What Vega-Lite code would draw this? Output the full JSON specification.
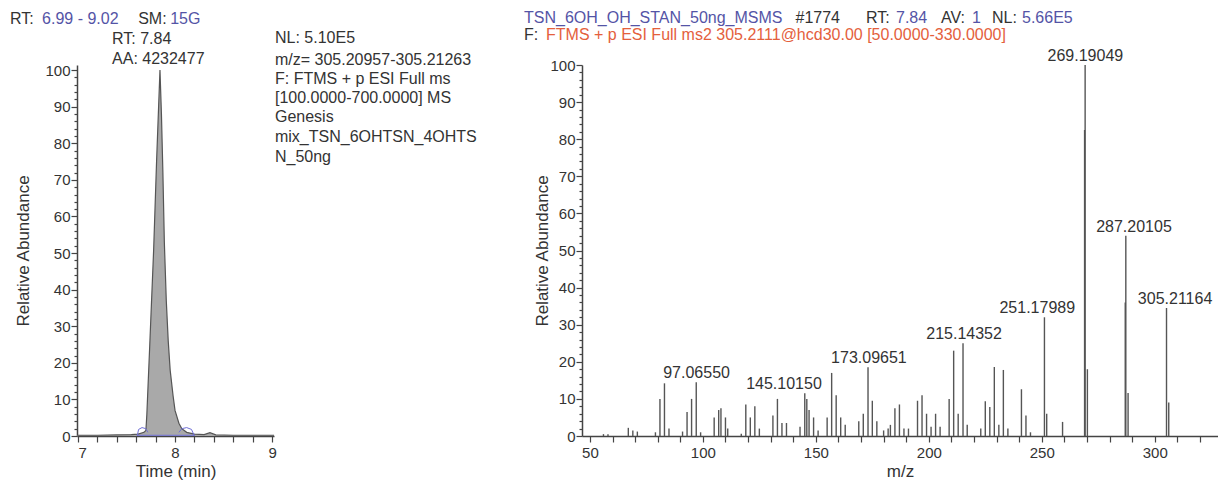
{
  "$schema": "https://vega.github.io/schema/vega-lite/v6.json",
  "background": "white",
  "autosize": {"type": "pad"},
  "padding": {"left": 10, "top": 9, "right": 0, "bottom": 5},
  "config": {
    "font": "Liberation Sans",
    "view": {"stroke": null},
    "axis": {
      "grid": false,
      "domainColor": "#444",
      "domainWidth": 1.5,
      "tickColor": "#444",
      "tickWidth": 1.2,
      "labelColor": "#333",
      "labelFont": "Liberation Sans",
      "labelFontSize": 15,
      "labelPadding": 2,
      "labelOverlap": false,
      "titleFont": "Liberation Sans",
      "titleFontSize": 17,
      "titleFontWeight": "normal",
      "titleColor": "#333"
    },
    "text": {"font": "Liberation Sans"}
  },
  "spacing": 308,
  "bounds": "flush",
  "datasets": {
    "chrom": [
      {"t": 6.99, "v": 0.2}, {"t": 7.2, "v": 0.2}, {"t": 7.4, "v": 0.3}, {"t": 7.55, "v": 0.4},
      {"t": 7.62, "v": 0.5}, {"t": 7.68, "v": 1.0}, {"t": 7.70, "v": 1.5}, {"t": 7.71, "v": 6},
      {"t": 7.74, "v": 25}, {"t": 7.78, "v": 51}, {"t": 7.81, "v": 75}, {"t": 7.845, "v": 100},
      {"t": 7.86, "v": 88}, {"t": 7.875, "v": 72}, {"t": 7.89, "v": 53}, {"t": 7.91, "v": 37},
      {"t": 7.93, "v": 26}, {"t": 7.95, "v": 18}, {"t": 7.98, "v": 11}, {"t": 8.0, "v": 7},
      {"t": 8.04, "v": 3.5}, {"t": 8.07, "v": 2}, {"t": 8.12, "v": 1}, {"t": 8.2, "v": 0.5},
      {"t": 8.3, "v": 0.4}, {"t": 8.36, "v": 0.9}, {"t": 8.42, "v": 0.3}, {"t": 8.6, "v": 0.2},
      {"t": 9.02, "v": 0.2}
    ],
    "marks": [
      {"t": 7.61, "v": 0, "seg": "a"}, {"t": 7.625, "v": 1.8, "seg": "a"}, {"t": 7.66, "v": 2.3, "seg": "a"}, {"t": 7.70, "v": 2.0, "seg": "a"}, {"t": 7.72, "v": 1.0, "seg": "a"},
      {"t": 8.04, "v": 1.0, "seg": "b"}, {"t": 8.07, "v": 2.0, "seg": "b"}, {"t": 8.12, "v": 2.3, "seg": "b"}, {"t": 8.17, "v": 1.8, "seg": "b"}, {"t": 8.2, "v": 0, "seg": "b"},
      {"t": 7.61, "v": 0.2, "seg": "c"}, {"t": 8.2, "v": 0.2, "seg": "c"}
    ],
    "leftText": [
      {"x": 6.30, "y": 114, "text": "RT:", "role": "label"},
      {"x": 6.63, "y": 114, "text": "6.99 - 9.02", "role": "value"},
      {"x": 7.62, "y": 114, "text": "SM:", "role": "label"},
      {"x": 7.95, "y": 114, "text": "15G", "role": "value"},
      {"x": 7.351, "y": 108.5, "text": "RT: 7.84", "role": "label"},
      {"x": 7.351, "y": 103.0, "text": "AA: 4232477", "role": "label"},
      {"x": 9.03, "y": 108.8, "text": "NL: 5.10E5", "role": "label"},
      {"x": 9.03, "y": 102.8, "text": "m/z= 305.20957-305.21263", "role": "label"},
      {"x": 9.03, "y": 97.6, "text": "F: FTMS + p ESI Full ms", "role": "label"},
      {"x": 9.03, "y": 92.4, "text": "[100.0000-700.0000]  MS", "role": "label"},
      {"x": 9.03, "y": 87.2, "text": "Genesis", "role": "label"},
      {"x": 9.03, "y": 81.7, "text": "mix_TSN_6OHTSN_4OHTS", "role": "label"},
      {"x": 9.03, "y": 76.3, "text": "N_50ng", "role": "label"}
    ],
    "spec": [
      {"mz": 56, "i": 0.5}, {"mz": 58, "i": 0.5}, {"mz": 67, "i": 2.2}, {"mz": 69, "i": 1.5}, {"mz": 71, "i": 1.2},
      {"mz": 79, "i": 1.0}, {"mz": 81, "i": 10}, {"mz": 83, "i": 14.2}, {"mz": 85, "i": 2},
      {"mz": 91, "i": 1.2}, {"mz": 93, "i": 6.5}, {"mz": 95, "i": 10}, {"mz": 97.0655, "i": 14.5}, {"mz": 99, "i": 1},
      {"mz": 105, "i": 5}, {"mz": 107, "i": 7}, {"mz": 108, "i": 7.5}, {"mz": 110, "i": 5}, {"mz": 111, "i": 2},
      {"mz": 117, "i": 0.6}, {"mz": 119, "i": 8.5}, {"mz": 121, "i": 5}, {"mz": 123, "i": 8}, {"mz": 125, "i": 2},
      {"mz": 131, "i": 5.5}, {"mz": 133, "i": 10}, {"mz": 135, "i": 3.5}, {"mz": 137, "i": 3.5},
      {"mz": 143, "i": 2.5}, {"mz": 145.1015, "i": 11.5}, {"mz": 146, "i": 10}, {"mz": 147, "i": 7}, {"mz": 149, "i": 5}, {"mz": 151, "i": 1.5},
      {"mz": 155, "i": 5}, {"mz": 157, "i": 17}, {"mz": 159, "i": 11}, {"mz": 161, "i": 5}, {"mz": 163, "i": 3},
      {"mz": 169, "i": 4}, {"mz": 171, "i": 6}, {"mz": 173.0965, "i": 18.5}, {"mz": 175, "i": 9.5}, {"mz": 177, "i": 4}, {"mz": 180, "i": 1.5},
      {"mz": 182, "i": 2}, {"mz": 183, "i": 3}, {"mz": 185, "i": 7.5}, {"mz": 187, "i": 8.5}, {"mz": 189, "i": 2}, {"mz": 191, "i": 2},
      {"mz": 195, "i": 9.5}, {"mz": 197, "i": 11}, {"mz": 199, "i": 6}, {"mz": 201, "i": 2.5}, {"mz": 203, "i": 6}, {"mz": 205, "i": 2.5},
      {"mz": 209, "i": 10}, {"mz": 211, "i": 23}, {"mz": 213, "i": 6}, {"mz": 215.1435, "i": 25}, {"mz": 217, "i": 3},
      {"mz": 223, "i": 2}, {"mz": 225, "i": 9.4}, {"mz": 227, "i": 7.8}, {"mz": 229, "i": 18.6}, {"mz": 231, "i": 3}, {"mz": 233, "i": 17.8}, {"mz": 235, "i": 2},
      {"mz": 241, "i": 12.6}, {"mz": 243, "i": 5.5}, {"mz": 245, "i": 1},
      {"mz": 251.1799, "i": 32}, {"mz": 252.18, "i": 6}, {"mz": 259.2, "i": 3.8},
      {"mz": 268.95, "i": 82.5}, {"mz": 269.1905, "i": 100}, {"mz": 270.19, "i": 18},
      {"mz": 286.95, "i": 36}, {"mz": 287.2011, "i": 54}, {"mz": 288.2, "i": 11.6},
      {"mz": 305.2116, "i": 34.5}, {"mz": 306.2, "i": 9}
    ],
    "peaks": [
      {"mz": 97.0655, "i": 14.5, "label": "97.06550", "at": 97.2},
      {"mz": 145.1015, "i": 11.5, "label": "145.10150", "at": 135.9},
      {"mz": 173.0965, "i": 18.5, "label": "173.09651", "at": 173.5},
      {"mz": 215.1435, "i": 25, "label": "215.14352", "at": 215.6},
      {"mz": 251.1799, "i": 32, "label": "251.17989", "at": 248.0},
      {"mz": 269.1905, "i": 100, "label": "269.19049", "at": 269.3},
      {"mz": 287.2011, "i": 54, "label": "287.20105", "at": 290.8},
      {"mz": 305.2116, "i": 34.5, "label": "305.21164", "at": 309.0}
    ],
    "rightText": [
      {"x": 20.83, "y": 112.7, "text": "TSN_6OH_OH_STAN_50ng_MSMS", "role": "value"},
      {"x": 141.0, "y": 112.7, "text": "#1774", "role": "label"},
      {"x": 172.2, "y": 112.7, "text": "RT:", "role": "label"},
      {"x": 185.48, "y": 112.7, "text": "7.84", "role": "value"},
      {"x": 205.4, "y": 112.7, "text": "AV:", "role": "label"},
      {"x": 219.1, "y": 112.7, "text": "1", "role": "value"},
      {"x": 228.0, "y": 112.7, "text": "NL:", "role": "label"},
      {"x": 241.25, "y": 112.7, "text": "5.66E5", "role": "value"},
      {"x": 20.83, "y": 108.1, "text": "F:", "role": "label"},
      {"x": 30.57, "y": 108.1, "text": "FTMS + p ESI Full ms2 305.2111@hcd30.00 [50.0000-330.0000]", "role": "filter"}
    ]
  },
  "hconcat": [
    {
      "width": 197,
      "height": 371,
      "layer": [
        {
          "data": {"name": "chrom"},
          "mark": {"type": "area", "color": "#a9a9a9", "opacity": 1, "line": {"color": "#555", "strokeWidth": 1.2}},
          "encoding": {
            "x": {"field": "t", "type": "quantitative",
              "scale": {"domain": [6.99, 9.02], "nice": false, "zero": false},
              "axis": {"title": "Time (min)", "tickCount": 10,
                "labelExpr": "abs(datum.value - round(datum.value)) < 0.001 ? '' + round(datum.value) : ''",
                "tickSize": 6, "labelPadding": 3, "titlePadding": 3}},
            "y": {"field": "v", "type": "quantitative",
              "scale": {"domain": [0, 101.4], "nice": false},
              "axis": {"title": "Relative Abundance", "tickCount": 50,
                "labelExpr": "datum.value % 10 === 0 ? datum.label : ''",
                "tickSize": {"condition": {"test": "datum.value % 10 === 0", "value": 6}, "value": 3},
                "labelPadding": 1, "titlePadding": 12}}
          }
        },
        {
          "data": {"name": "marks"},
          "mark": {"type": "line", "color": "#6f6fd6", "strokeWidth": 1},
          "encoding": {
            "x": {"field": "t", "type": "quantitative"},
            "y": {"field": "v", "type": "quantitative"},
            "detail": {"field": "seg"}
          }
        },
        {
          "data": {"name": "leftText"},
          "mark": {"type": "text", "align": "left", "baseline": "middle", "fontSize": 16},
          "encoding": {
            "x": {"field": "x", "type": "quantitative"},
            "y": {"field": "y", "type": "quantitative"},
            "text": {"field": "text"},
            "color": {"field": "role", "type": "nominal", "legend": null,
              "scale": {"domain": ["label", "value", "filter"], "range": ["#333333", "#5454a6", "#e4603c"]}}
          }
        }
      ]
    },
    {
      "width": 636,
      "height": 371,
      "layer": [
        {
          "data": {"name": "spec"},
          "mark": {"type": "rule", "color": "#555", "strokeWidth": 1.4},
          "encoding": {
            "x": {"field": "mz", "type": "quantitative",
              "scale": {"domain": [46.5, 328], "nice": false, "zero": false},
              "axis": {"title": "m/z", "tickCount": 28,
                "labelExpr": "datum.value % 50 === 0 ? datum.label : ''",
                "tickSize": 6, "labelPadding": 3, "titlePadding": 3}},
            "y": {"field": "i", "type": "quantitative",
              "scale": {"domain": [0, 100], "nice": false},
              "axis": {"title": "Relative Abundance", "tickCount": 50,
                "labelExpr": "datum.value % 10 === 0 ? datum.label : ''",
                "tickSize": {"condition": {"test": "datum.value % 10 === 0", "value": 6}, "value": 3},
                "labelPadding": 1, "titlePadding": -2}},
            "y2": {"datum": 0}
          }
        },
        {
          "data": {"name": "peaks"},
          "mark": {"type": "text", "align": "center", "baseline": "alphabetic", "dy": -4, "fontSize": 16, "color": "#333"},
          "encoding": {
            "x": {"field": "at", "type": "quantitative"},
            "y": {"field": "i", "type": "quantitative"},
            "text": {"field": "label"}
          }
        },
        {
          "data": {"name": "rightText"},
          "mark": {"type": "text", "align": "left", "baseline": "middle", "fontSize": 16},
          "encoding": {
            "x": {"field": "x", "type": "quantitative"},
            "y": {"field": "y", "type": "quantitative"},
            "text": {"field": "text"},
            "color": {"field": "role", "type": "nominal", "legend": null,
              "scale": {"domain": ["label", "value", "filter"], "range": ["#333333", "#5454a6", "#e4603c"]}}
          }
        }
      ]
    }
  ]
}
